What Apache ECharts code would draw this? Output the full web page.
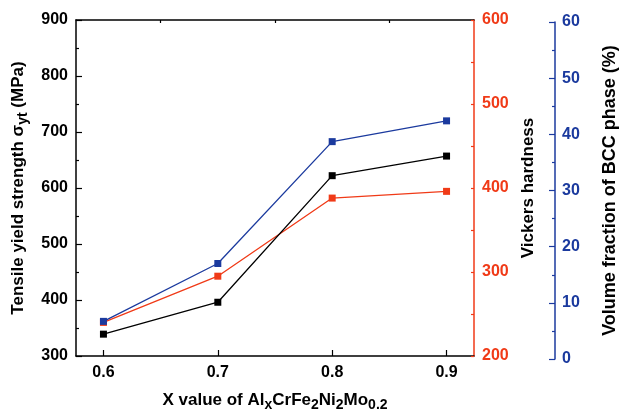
<!DOCTYPE html>
<html>
<head>
<meta charset="utf-8">
<script src="https://cdn.jsdelivr.net/npm/echarts@6/dist/echarts.min.js"></script>
<style>
html, body { margin: 0; padding: 0; background: #fff; }
#chart { width: 620px; height: 415px; }
</style>
</head>
<body>
<div id="chart"></div>
<script>
var xValues = [0.6, 0.7, 0.8, 0.9]
var yieldStrength = [339, 396, 622, 657]
var vickers = [240, 295, 388, 396]
var bccFraction = [6.7, 17.0, 38.7, 42.4]
var xTicks = [0.6, 0.7, 0.8, 0.9]
var xMinorTicks = [0.65, 0.75, 0.85]

var black = "#000000"
var red = "#f03a17"
var blue = "#1b3a9e"
var font = "Liberation Sans"

function pairs(ys) {
    return xValues.map(function (x, i) { return [x, ys[i]] })
}

function bold(size, color) {
    return { fontFamily: font, fontWeight: "bold", fontSize: size, color: color }
}

var chart = echarts.init(document.getElementById("chart"))

var option = {
    animation: false,
    grid: [
        { left: 76, right: 146, top: 20, bottom: 59, outerBoundsMode: "none", containLabel: false },
        { left: 76, right: 146, top: 22, bottom: 56, outerBoundsMode: "none", containLabel: false }
    ],
    xAxis: [
        {
            type: "value", gridIndex: 0, min: 0.576, max: 0.924,
            axisLine: { lineStyle: { color: black, width: 1.5 } },
            axisTick: { inside: true, length: 6, customValues: xTicks, lineStyle: { color: black, width: 1.2 } },
            axisLabel: Object.assign(bold(16, black), { margin: 9, customValues: xTicks,
                formatter: function (v) { return v.toFixed(1) } }),
            splitLine: { show: false },
            name: "{m|X value of Al}{s|x}{m|CrFe}{s|2}{m|Ni}{s|2}{m|Mo}{s|0.2}",
            nameLocation: "middle",
            nameGap: 32,
            nameTextStyle: { rich: {
                m: bold(17, black),
                s: Object.assign(bold(14, black), { padding: [10, 0, 0, 0] })
            } }
        },
        {
            type: "value", gridIndex: 0, min: 0.576, max: 0.924,
            axisLine: { show: false },
            axisTick: { inside: true, length: 3, customValues: xMinorTicks, lineStyle: { color: black, width: 1.2 } },
            axisLabel: { show: false },
            splitLine: { show: false }
        },
        {
            type: "value", gridIndex: 0, min: 0.576, max: 0.924, position: "top",
            axisLine: { lineStyle: { color: black, width: 1.5 } },
            axisTick: { show: false }, axisLabel: { show: false }, splitLine: { show: false }
        },
        {
            type: "value", gridIndex: 1, min: 0.576, max: 0.924, show: false
        }
    ],
    yAxis: [
        {
            type: "value", gridIndex: 0, position: "left", min: 300, max: 900, interval: 100,
            axisLine: { show: true, lineStyle: { color: black, width: 1.5 } },
            axisTick: { inside: true, length: 6, lineStyle: { color: black, width: 1.2 } },
            minorTick: { show: true, splitNumber: 2, length: 3, lineStyle: { color: black, width: 1.2 } },
            axisLabel: Object.assign(bold(16, black), { margin: 8 }),
            splitLine: { show: false },
            name: "{m|Tensile yield strength σ}{s|yt}{m| (MPa)}",
            nameLocation: "middle",
            nameRotate: 90,
            nameGap: 45,
            nameTextStyle: { rich: {
                m: bold(17, black),
                s: Object.assign(bold(14, black), { padding: [10, 0, 0, 0] })
            } }
        },
        {
            type: "value", gridIndex: 0, position: "right", min: 200, max: 600, interval: 100,
            axisLine: { show: true, lineStyle: { color: red, width: 1.5 } },
            axisTick: { inside: true, length: 3, lineStyle: { color: red, width: 1.2 } },
            minorTick: { show: true, splitNumber: 2, length: 3, lineStyle: { color: red, width: 1.2 } },
            axisLabel: Object.assign(bold(16, red), { margin: 8 }),
            splitLine: { show: false },
            name: "Vickers hardness",
            nameLocation: "middle",
            nameRotate: 90,
            nameGap: 41,
            nameTextStyle: bold(17, black)
        },
        {
            type: "value", gridIndex: 1, position: "right", offset: 81, min: 0, max: 60, interval: 10,
            axisLine: { show: true, lineStyle: { color: blue, width: 1.5 } },
            axisTick: { inside: true, length: 6, lineStyle: { color: blue, width: 1.2 } },
            minorTick: { show: true, splitNumber: 2, length: 3, lineStyle: { color: blue, width: 1.2 } },
            axisLabel: Object.assign(bold(16, blue), { margin: 7 }),
            splitLine: { show: false },
            name: "Volume fraction of BCC phase (%)",
            nameLocation: "middle",
            nameRotate: 90,
            nameGap: 46,
            nameTextStyle: bold(18, black)
        }
    ],
    series: [
        {
            name: "Vickers", type: "line", xAxisIndex: 0, yAxisIndex: 1, data: pairs(vickers),
            symbol: "rect", symbolSize: 7, lineStyle: { color: red, width: 1.3 },
            itemStyle: { color: red }, z: 3
        },
        {
            name: "Yield", type: "line", xAxisIndex: 0, yAxisIndex: 0, data: pairs(yieldStrength),
            symbol: "rect", symbolSize: 7, lineStyle: { color: black, width: 1.3 },
            itemStyle: { color: black }, z: 4
        },
        {
            name: "BCC", type: "line", xAxisIndex: 3, yAxisIndex: 2, data: pairs(bccFraction),
            symbol: "rect", symbolSize: 7, lineStyle: { color: blue, width: 1.3 },
            itemStyle: { color: blue }, z: 5
        }
    ]
}

chart.setOption(option)
</script>
</body>
</html>
